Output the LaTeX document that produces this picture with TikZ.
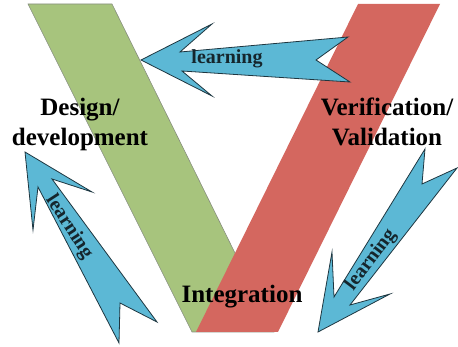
\documentclass[tikz,border=0pt]{standalone}
\usepackage{fontspec}
\setmainfont{Liberation Serif}
\definecolor{vgreen}{HTML}{A7C47D}
\definecolor{vred}{HTML}{D4675F}
\definecolor{vblue}{HTML}{5CB8D5}
\definecolor{vline}{HTML}{1E3640}
\tikzset{
  band/.style={line width=0.6pt},
  learnarrow/.style={fill=vblue, draw=vline, line width=0.8pt, line join=miter},
  biglabel/.style={font=\fontsize{25}{30}\selectfont\bfseries, text=black, inner sep=0pt, align=center},
  learnlabel/.style={font=\fontsize{20}{22}\selectfont\bfseries, text=vline!70!black, inner sep=0pt}
}
\begin{document}
\begin{tikzpicture}[x=1pt,y=-1pt]
\useasboundingbox (0,0) rectangle (458,347);
% V bands
\draw[band, fill=vgreen, draw=gray!80!vgreen] (28,4) -- (112,4) -- (274,332) -- (192,332) -- cycle;
\fill[vred] (358,4) -- (440,4) -- (278,332) -- (196,332) -- cycle;
% top arrow (pointing left)
\draw[learnarrow] (141,60) -- (212,24) -- (180,52) -- (348,37) -- (316,60) -- (350,82) -- (182,71) -- (212,96) -- cycle;
% left arrow (pointing up-left)
\draw[learnarrow] (25,152) -- (92,192) -- (52,179) -- (157,322) -- (120,303) -- (119,343) -- (38,187) -- (33,230) -- cycle;
% right arrow (pointing down-left)
\draw[learnarrow] (318,332) -- (332,252) -- (334,297) -- (425,149) -- (422,184) -- (457,168) -- (350,305) -- (390,294) -- cycle;
% labels
\node[biglabel] (design) at (80,124) {Design/\\development};
\node[biglabel] (verif) at (387,122) {Verification/\\Validation};
\node[biglabel, anchor=base] (integ) at (242,303) {Integration};
\node[learnlabel, anchor=base] (learntop) at (227,64) {learning};
\node[learnlabel, rotate=-57] (learnleft) at (69,227) {learning};
\node[learnlabel, rotate=53] (learnright) at (371,260) {learning};
\end{tikzpicture}
\end{document}
